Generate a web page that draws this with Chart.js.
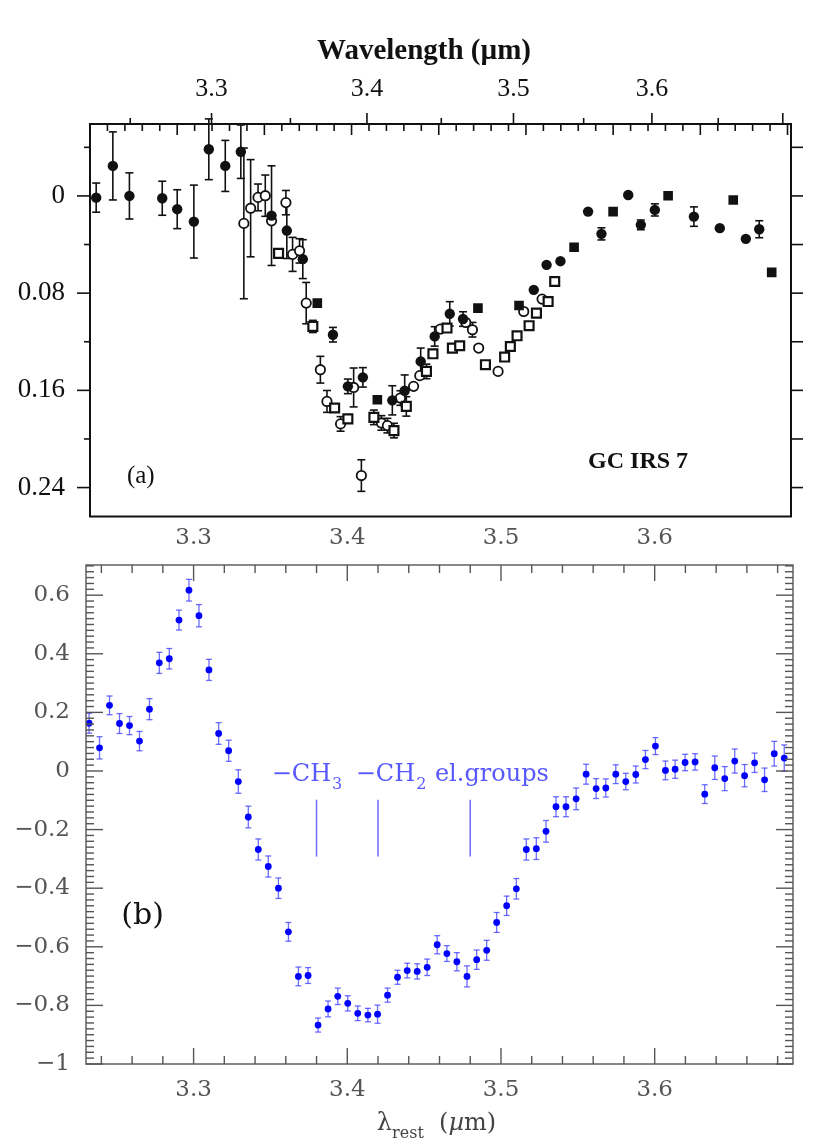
<!DOCTYPE html>
<html>
<head>
<meta charset="utf-8">
<script src="https://cdn.jsdelivr.net/npm/chart.js@4.4.1/dist/chart.umd.min.js"></script>
<style>
  html, body { margin: 0; padding: 0; background: #fff; }
  #wrapA { position: absolute; left: 0; top: 0; width: 830px; height: 525px; }
  #wrapB { position: absolute; left: 0; top: 525px; width: 830px; height: 613px; }
</style>
</head>
<body>
<div id="wrapA"><canvas id="chartA"></canvas></div>
<div id="wrapB"><canvas id="chartB"></canvas></div>
<script>
// ---- panel (a): GC IRS 7, optical depth vs wavelength (um) ----
const fcLam = [3.2295, 3.2395, 3.2495, 3.2695, 3.2787, 3.2890, 3.2983, 3.3086, 3.3184, 3.3379, 3.3477, 3.3580,
  3.3776, 3.3874, 3.3973, 3.4169, 3.4252, 3.4360, 3.4455, 3.4558, 3.4649, 3.5143, 3.5234, 3.5333, 3.5532,
  3.5629, 3.5825, 3.5918, 3.6022, 3.6315, 3.6512, 3.6712, 3.6816];
const fcVal = [0.0014, -0.0247, 0.0000, 0.0019, 0.0109, 0.0211, -0.0384, -0.0247, -0.0364, 0.0162, 0.0285, 0.0520,
  0.1142, 0.1567, 0.1493, 0.1682, 0.1603, 0.1362, 0.1156, 0.0970, 0.1013, 0.0773, 0.0567, 0.0537, 0.0129,
  0.0312, -0.0008, 0.0238, 0.0115, 0.0170, 0.0265, 0.0353, 0.0274];
const fcErr = [0.012, 0.028, 0.019, 0.014, 0.016, 0.030, 0.025, 0.021, 0.022, 0.041, 0.023, 0.016,
  0.006, 0.006, 0.008, 0.012, 0.013, 0.011, 0.008, 0.010, 0.006, 0, 0, 0, 0,
  0.005, 0, 0.004, 0.005, 0.008, 0, 0, 0.007];

const fsLam = [3.3674, 3.4069, 3.4752, 3.5039, 3.5431, 3.5714, 3.6121, 3.6615, 3.6913];
const fsVal = [0.0882, 0.1677, 0.0923, 0.0902, 0.0422, 0.0129, -0.0002, 0.0033, 0.0629];

const ocLam = [3.3203, 3.3246, 3.3293, 3.3339, 3.3379, 3.3471, 3.3514, 3.3559, 3.3602, 3.3694, 3.3737, 3.3826,
  3.3912, 3.3963, 3.4096, 3.4136, 3.4223, 3.4312, 3.4354, 3.4494, 3.4668, 3.4714, 3.4757, 3.4892, 3.5072, 3.5202];
const ocVal = [0.0226, 0.0101, 0.0012, -0.0002, 0.0205, 0.0055, 0.0481, 0.0452, 0.0882, 0.1430, 0.1691, 0.1876,
  0.1576, 0.2301, 0.1868, 0.1890, 0.1663, 0.1567, 0.1479, 0.1096, 0.1041, 0.1101, 0.1252, 0.1444, 0.0951, 0.0849];
const ocErr = [0.062, 0.040, 0.011, 0.017, 0, 0.010, 0.014, 0.010, 0.017, 0.011, 0.009, 0.006,
  0.016, 0.013, 0.006, 0.006, 0.006, 0, 0, 0, 0, 0.006, 0, 0, 0, 0];

const osLam = [3.3424, 3.3645, 3.3787, 3.3874, 3.4046, 3.4180, 3.4263, 3.4399, 3.4443, 3.4539, 3.4576, 3.4626,
  3.4804, 3.4938, 3.4978, 3.5025, 3.5110, 3.5162, 3.5245, 3.5292];
const osVal = [0.0473, 0.1074, 0.1745, 0.1835, 0.1822, 0.1931, 0.1732, 0.1444, 0.1299, 0.1087, 0.1252, 0.1233,
  0.1389, 0.1326, 0.1239, 0.1151, 0.1068, 0.0964, 0.0869, 0.0704];
const osErr = [0, 0.005, 0, 0, 0.006, 0.006, 0.008, 0.006, 0, 0, 0, 0,
  0, 0, 0, 0, 0, 0, 0, 0];

const topLamTicks = [3.3, 3.4, 3.5, 3.6];
const topDepthTicks = [0, 0.08, 0.16, 0.24];

// ---- panel (b): normalised spectrum vs rest wavelength ----
const bLam = [3.2320, 3.2388, 3.2453, 3.2518, 3.2583, 3.2648, 3.2713, 3.2777, 3.2842, 3.2905,
  3.2970, 3.3035, 3.3100, 3.3163, 3.3228, 3.3291, 3.3356, 3.3421, 3.3486, 3.3552,
  3.3617, 3.3682, 3.3745, 3.3810, 3.3875, 3.3938, 3.4003, 3.4068, 3.4134, 3.4197,
  3.4262, 3.4327, 3.4390, 3.4455, 3.4520, 3.4585, 3.4648, 3.4713, 3.4779, 3.4842,
  3.4907, 3.4972, 3.5037, 3.5100, 3.5165, 3.5230, 3.5293, 3.5358, 3.5423, 3.5489,
  3.5554, 3.5619, 3.5682, 3.5747, 3.5812, 3.5877, 3.5940, 3.6005, 3.6070, 3.6133,
  3.6198, 3.6263, 3.6326, 3.6391, 3.6456, 3.6521, 3.6585, 3.6650, 3.6715, 3.6778, 3.6843];
const bVal = [0.163, 0.079, 0.224, 0.162, 0.155, 0.102, 0.211, 0.369, 0.383, 0.515,
  0.617, 0.530, 0.345, 0.128, 0.069, -0.036, -0.157, -0.268, -0.326, -0.400,
  -0.549, -0.701, -0.698, -0.867, -0.812, -0.769, -0.793, -0.827, -0.833, -0.830,
  -0.765, -0.704, -0.681, -0.684, -0.670, -0.593, -0.623, -0.651, -0.701, -0.644,
  -0.612, -0.517, -0.460, -0.402, -0.268, -0.265, -0.206, -0.122, -0.122, -0.095,
  -0.011, -0.060, -0.058, -0.011, -0.036, -0.012, 0.039, 0.085, 0.002, 0.006,
  0.029, 0.031, -0.079, 0.011, -0.026, 0.034, -0.016, 0.028, -0.030, 0.059, 0.044];
const bErr = [0.034, 0.038, 0.032, 0.034, 0.031, 0.033, 0.036, 0.036, 0.035, 0.034,
  0.037, 0.038, 0.036, 0.037, 0.036, 0.040, 0.037, 0.036, 0.036, 0.035,
  0.032, 0.032, 0.027, 0.024, 0.027, 0.028, 0.026, 0.025, 0.023, 0.031,
  0.024, 0.024, 0.025, 0.026, 0.028, 0.031, 0.027, 0.031, 0.036, 0.033,
  0.034, 0.034, 0.033, 0.035, 0.036, 0.037, 0.037, 0.034, 0.034, 0.037,
  0.034, 0.034, 0.031, 0.032, 0.028, 0.029, 0.031, 0.029, 0.032, 0.031,
  0.028, 0.028, 0.032, 0.040, 0.041, 0.041, 0.038, 0.033, 0.040, 0.042, 0.045];

const botLamTicks = [3.3, 3.4, 3.5, 3.6];
const botValTicks = [-1, -0.8, -0.6, -0.4, -0.2, 0, 0.2, 0.4, 0.6];

// band markers: wavelength, label, subscript
const bandLines = [3.38, 3.42, 3.48];
const bandLabels = [['\u2212CH', '3'], ['\u2212CH', '2'], ['el.groups', '']];
const bandLabelLam = [3.3508, 3.4055, 3.4570];

const INK = '#111';
const SERIF_A = '"Liberation Serif", "Times New Roman", serif';
const SERIF_B = '"DejaVu Serif", serif';
const BLUE = '#0000ff';
const BAR_BLUE = 'rgba(60, 60, 255, 0.75)';

const toWn = lam => 1e4 / lam;
const pairsWn = (lam, val) => lam.map((l, i) => ({ x: toWn(l), y: val[i] }));
const pairs = (lam, val) => lam.map((l, i) => ({ x: l, y: val[i] }));

function seg(ctx, x1, y1, x2, y2) {
    ctx.beginPath();
    ctx.moveTo(x1, y1);
    ctx.lineTo(x2, y2);
    ctx.stroke();
}

// error bars drawn through the chart's own scales
function errorBars(id, sets, color, width, cap) {
    return {
        id: id,
        beforeDatasetsDraw(chart) {
            const ctx = chart.ctx;
            const xs = chart.scales.x, ys = chart.scales.y;
            ctx.save();
            ctx.strokeStyle = color;
            ctx.lineWidth = width;
            sets.forEach(s => {
                chart.data.datasets[s.ds].data.forEach((p, i) => {
                    const e = s.errs[i];
                    if (!e) return;
                    const px = xs.getPixelForValue(p.x);
                    const y1 = ys.getPixelForValue(p.y - e);
                    const y2 = ys.getPixelForValue(p.y + e);
                    seg(ctx, px, y1, px, y2);
                    seg(ctx, px - cap, y1, px + cap, y1);
                    seg(ctx, px - cap, y2, px + cap, y2);
                });
            });
            ctx.restore();
        }
    };
}

// frame, ticks and text of panel (a)
const frameA = {
    id: 'frameA',
    afterDraw(chart) {
        const { ctx, chartArea: a } = chart;
        const xs = chart.scales.x, ys = chart.scales.y;
        ctx.save();
        ctx.strokeStyle = INK;
        ctx.lineWidth = 2;
        ctx.strokeRect(a.left, a.top, a.right - a.left, a.bottom - a.top);
        ctx.lineWidth = 1.6;
        for (let n = 2700; n <= 3100; n += 10) {
            const px = xs.getPixelForValue(n);
            seg(ctx, px, a.top, px, a.top + (n % 50 === 0 ? 11 : 7));
        }
        for (let k = 0; k <= 9; k++) {
            const px = xs.getPixelForValue(toWn(3.25 + k * 0.05));
            if (px < a.left || px > a.right) continue;
            seg(ctx, px, a.top, px, a.top - (k % 2 === 1 ? 11 : 6));
        }
        for (let k = -1; k <= 6; k++) {
            const py = ys.getPixelForValue(k * 0.04);
            seg(ctx, a.left, py, a.left - (k % 2 === 0 ? 13 : 6), py);
            seg(ctx, a.right, py, a.right + 12, py);
        }
        ctx.fillStyle = INK;
        ctx.textBaseline = 'middle';
        ctx.textAlign = 'center';
        ctx.font = 'bold 29px ' + SERIF_A;
        ctx.fillText('Wavelength (\u00b5m)', 424, 52);
        ctx.textAlign = 'left';
        ctx.font = '25px ' + SERIF_A;
        ctx.fillText('(a)', xs.getPixelForValue(toWn(3.248)), ys.getPixelForValue(0.231));
        ctx.font = 'bold 24px ' + SERIF_A;
        ctx.fillText('GC IRS 7', xs.getPixelForValue(toWn(3.5532)), ys.getPixelForValue(0.2186));
        ctx.restore();
    }
};

// frame, ticks, band markers and titles of panel (b)
const frameB = {
    id: 'frameB',
    afterDraw(chart) {
        const { ctx, chartArea: a } = chart;
        const xs = chart.scales.x, ys = chart.scales.y;
        ctx.save();
        ctx.strokeStyle = '#555';
        ctx.lineWidth = 1.4;
        ctx.strokeRect(a.left, a.top, a.right - a.left, a.bottom - a.top);
        for (let k = 0; k <= 23; k++) {
            const lam = 3.24 + k * 0.02;
            const px = xs.getPixelForValue(lam);
            if (px <= a.left || px >= a.right) continue;
            const len = Math.abs(lam * 10 - Math.round(lam * 10)) < 1e-6 ? 16 : 8;
            seg(ctx, px, a.bottom, px, a.bottom - len);
            seg(ctx, px, a.top, px, a.top + len);
        }
        for (let k = 0; k <= 85; k++) {
            const v = -1 + k * 0.02;
            const py = ys.getPixelForValue(v);
            if (py < a.top) continue;
            const len = Math.abs(v * 5 - Math.round(v * 5)) < 1e-6 ? 17 : 8;
            seg(ctx, a.left, py, a.left + len, py);
            seg(ctx, a.right, py, a.right - len, py);
        }

        // band markers
        ctx.strokeStyle = 'rgba(70, 70, 255, 0.8)';
        ctx.lineWidth = 1.5;
        bandLines.forEach(l => {
            const px = xs.getPixelForValue(l);
            seg(ctx, px, ys.getPixelForValue(-0.098), px, ys.getPixelForValue(-0.292));
        });
        ctx.fillStyle = 'rgba(70, 70, 255, 0.9)';
        ctx.textAlign = 'left';
        ctx.textBaseline = 'alphabetic';
        bandLabels.forEach((lab, i) => {
            const px = xs.getPixelForValue(bandLabelLam[i]);
            const py = ys.getPixelForValue(-0.034);
            ctx.font = '24px ' + SERIF_B;
            ctx.fillText(lab[0], px, py);
            const w = ctx.measureText(lab[0]).width;
            if (lab[1]) {
                ctx.font = '16px ' + SERIF_B;
                ctx.fillText(lab[1], px + w + 1, py + 8);
            }
        });

        // panel letter
        ctx.fillStyle = INK;
        ctx.textBaseline = 'middle';
        ctx.font = '30px ' + SERIF_B;
        ctx.fillText('(b)', xs.getPixelForValue(3.253), ys.getPixelForValue(-0.496));

        // axis title with subscript
        ctx.fillStyle = '#444';
        ctx.textBaseline = 'alphabetic';
        const parts = [['\u03bb', '24px ' + SERIF_B, 0], ['rest', '16px ' + SERIF_B, 8],
            ['  (', '24px ' + SERIF_B, 0], ['\u00b5', 'italic 24px ' + SERIF_B, 0], ['m)', '24px ' + SERIF_B, 0]];
        let total = 0;
        parts.forEach(p => { ctx.font = p[1]; total += ctx.measureText(p[0]).width; });
        let tx = (a.left + a.right) / 2 - total / 2 - 3;
        const base = a.bottom + 66;
        parts.forEach(p => {
            ctx.font = p[1];
            ctx.fillText(p[0], tx, base + p[2]);
            tx += ctx.measureText(p[0]).width;
        });
        ctx.restore();
    }
};

const noGrid = { display: false, drawTicks: false };
const noBorder = { display: false };

new Chart(document.getElementById('chartA'), {
    type: 'scatter',
    data: {
        datasets: [
            { label: 'filled circles', data: pairsWn(fcLam, fcVal), pointStyle: 'circle', pointRadius: 5.2,
              backgroundColor: INK, borderColor: INK, borderWidth: 0 },
            { label: 'filled squares', data: pairsWn(fsLam, fsVal), pointStyle: 'rect', pointRadius: 6.8,
              backgroundColor: INK, borderColor: INK, borderWidth: 0 },
            { label: 'open squares', data: pairsWn(osLam, osVal), pointStyle: 'rect', pointRadius: 6.3,
              backgroundColor: '#fff', borderColor: INK, borderWidth: 2.2 },
            { label: 'open circles', data: pairsWn(ocLam, ocVal), pointStyle: 'circle', pointRadius: 4.7,
              backgroundColor: '#fff', borderColor: INK, borderWidth: 1.8 }
        ]
    },
    options: {
        responsive: true,
        maintainAspectRatio: false,
        animation: false,
        events: [],
        layout: { padding: { left: 0, right: 39, top: 0, bottom: 0 } },
        plugins: { legend: { display: false }, tooltip: { enabled: false } },
        scales: {
            x: {
                type: 'linear', position: 'bottom', reverse: true, min: 2698, max: 3100,
                grid: noGrid, border: noBorder, ticks: { display: false },
                afterFit: s => { s.height = 8; }
            },
            xTop: {
                type: 'linear', position: 'top', reverse: true, min: 2698, max: 3100,
                grid: noGrid, border: noBorder,
                afterBuildTicks: s => { s.ticks = topLamTicks.map(l => ({ value: toWn(l) })); },
                ticks: { padding: 19, color: INK, font: { family: SERIF_A, size: 26 },
                         callback: v => (1e4 / v).toFixed(1) },
                afterFit: s => { s.height = 124; s.paddingLeft = 0; s.paddingRight = 0; }
            },
            y: {
                type: 'linear', reverse: true, min: -0.0592, max: 0.2638,
                grid: noGrid, border: noBorder,
                afterBuildTicks: s => { s.ticks = topDepthTicks.map(v => ({ value: v })); },
                ticks: { padding: 25, color: INK, font: { family: SERIF_A, size: 27 },
                         callback: v => (v === 0 ? '0' : v.toFixed(2)) },
                afterFit: s => { s.width = 90; s.paddingTop = 0; s.paddingBottom = 0; }
            }
        }
    },
    plugins: [errorBars('errA', [{ ds: 0, errs: fcErr }, { ds: 2, errs: osErr }, { ds: 3, errs: ocErr }], INK, 1.6, 4), frameA]
});

const fmtB = v => {
    if (v === 0) return '0';
    const s = Number.isInteger(v) ? Math.abs(v).toString() : Math.abs(v).toFixed(1);
    return (v < 0 ? '\u2212' : '') + s;
};

new Chart(document.getElementById('chartB'), {
    type: 'scatter',
    data: {
        datasets: [
            { label: 'spectrum', data: pairs(bLam, bVal), pointStyle: 'circle', pointRadius: 3.4,
              backgroundColor: BLUE, borderColor: BLUE, borderWidth: 0 }
        ]
    },
    options: {
        responsive: true,
        maintainAspectRatio: false,
        animation: false,
        events: [],
        layout: { padding: { left: 0, right: 37, top: 0, bottom: 0 } },
        plugins: { legend: { display: false }, tooltip: { enabled: false } },
        scales: {
            x: {
                type: 'linear', position: 'bottom', min: 3.23, max: 3.69,
                grid: noGrid, border: noBorder,
                afterBuildTicks: s => { s.ticks = botLamTicks.map(v => ({ value: v })); },
                ticks: { padding: 12, color: '#555', font: { family: SERIF_B, size: 23 },
                         callback: v => v.toFixed(1) },
                afterFit: s => { s.height = 74; }
            },
            xTop: {
                type: 'linear', position: 'top', min: 3.23, max: 3.69,
                grid: noGrid, border: noBorder,
                afterBuildTicks: s => { s.ticks = botLamTicks.map(v => ({ value: v })); },
                ticks: { padding: 13, color: '#555', font: { family: SERIF_B, size: 23 },
                         callback: v => v.toFixed(1) },
                afterFit: s => { s.height = 40; }
            },
            y: {
                type: 'linear', min: -1, max: 0.703,
                grid: noGrid, border: noBorder,
                afterBuildTicks: s => { s.ticks = botValTicks.map(v => ({ value: v })); },
                ticks: { padding: 16, color: '#555', font: { family: SERIF_B, size: 23 }, callback: fmtB },
                afterFit: s => { s.width = 86; s.paddingTop = 0; s.paddingBottom = 0; }
            }
        }
    },
    plugins: [errorBars('errB', [{ ds: 0, errs: bErr }], BAR_BLUE, 1.3, 3), frameB]
});
</script>
</body>
</html>
